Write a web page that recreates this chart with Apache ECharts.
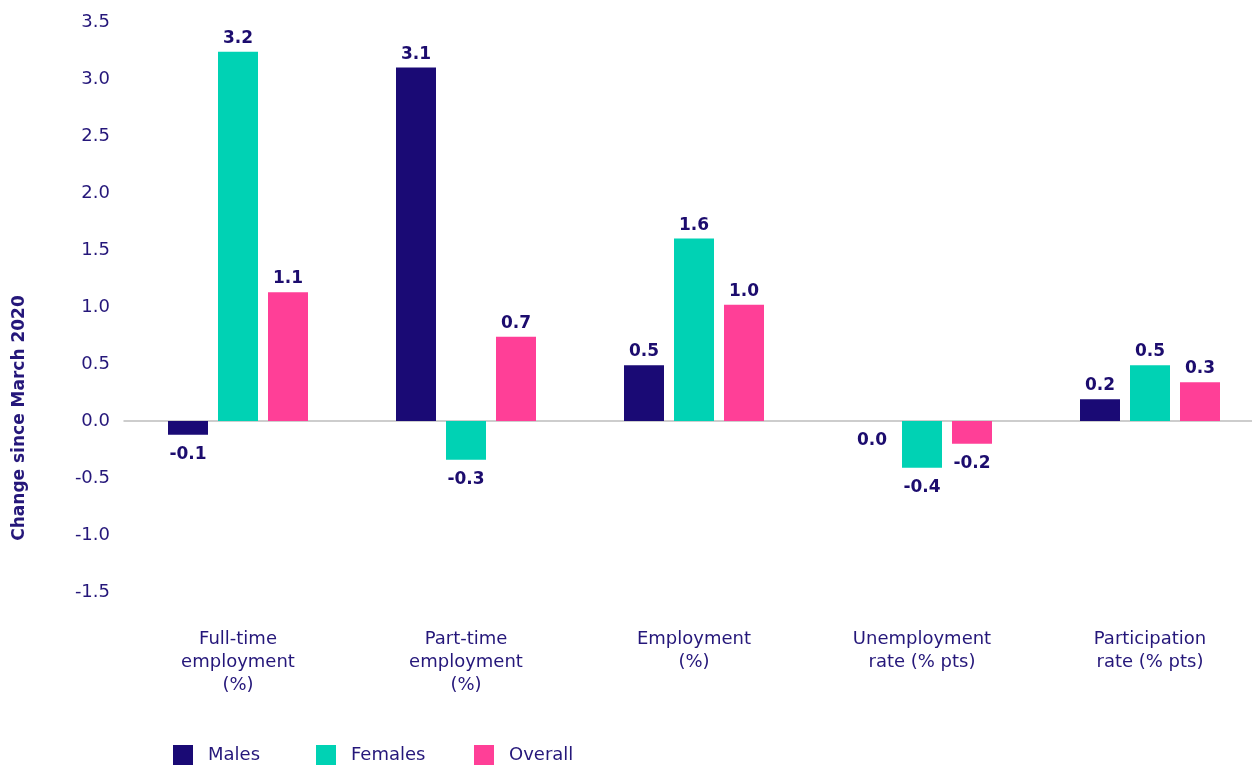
<!DOCTYPE html>
<html>
<head>
<meta charset="utf-8">
<script src="https://cdn.jsdelivr.net/npm/echarts@6/dist/echarts.min.js"></script>
<style>html,body{margin:0;padding:0;background:#fff}#c{width:1252px;height:767px}</style>
</head>
<body>
<div id="c"></div>
<script>
var categories = ['Full-time\nemployment\n(%)', 'Part-time\nemployment\n(%)', 'Employment\n(%)', 'Unemployment\nrate (% pts)', 'Participation\nrate (% pts)'];
var seriesNames = ['Males', 'Females', 'Overall'];
var males = [-0.12, 3.1, 0.49, 0.0, 0.19];
var females = [3.24, -0.34, 1.6, -0.41, 0.49];
var overall = [1.13, 0.74, 1.02, -0.2, 0.34];
var yTicks = [-1.5, -1.0, -0.5, 0.0, 0.5, 1.0, 1.5, 2.0, 2.5, 3.0, 3.5];
var yTitle = 'Change since March 2020';

var FONT = 'DejaVu Sans';
var TXT = '#25177a';
var LBL = '#1c0c6e';

function mk(arr) {
  return arr.map(function (v) {
    return { value: v, label: { position: v > 0 ? 'top' : 'bottom', distance: v > 0 ? 5 : 11 } };
  });
}
function series(name, arr, color) {
  return {
    name: name, type: 'bar', data: mk(arr), barWidth: 40, barGap: '25%',
    itemStyle: { color: color },
    label: { show: true, color: LBL, fontFamily: FONT, fontWeight: 'bold', fontSize: 17,
      formatter: function (p) { return p.value.toFixed(1); } }
  };
}
function leg(name, left) {
  return {
    left: left, bottom: 2, padding: 0, itemWidth: 20, itemHeight: 20, icon: 'rect',
    textStyle: { color: TXT, fontFamily: FONT, fontSize: 18, padding: [0, 0, 0, 10] },
    data: [name], selectedMode: false
  };
}
var chart = echarts.init(document.getElementById('c'));
chart.setOption({
  animation: false,
  textStyle: { fontFamily: FONT },
  grid: { left: 124, width: 1140, top: 22, bottom: 175, containLabel: false, outerBoundsMode: 'none' },
  legend: [leg(seriesNames[0], 173), leg(seriesNames[1], 316), leg(seriesNames[2], 474)],
  graphic: [{
    type: 'text', x: 20, y: 418, rotation: Math.PI / 2,
    style: { text: yTitle, fill: TXT, font: 'bold 17px "DejaVu Sans"', textAlign: 'center', textVerticalAlign: 'middle' }
  }],
  xAxis: {
    type: 'category', data: categories,
    axisLine: { show: true, onZero: true, lineStyle: { color: '#bdbdbd', width: 1.5 } },
    axisTick: { show: false },
    axisLabel: { color: TXT, fontFamily: FONT, fontSize: 18, lineHeight: 23, margin: 36,
      interval: 0 }
  },
  yAxis: {
    type: 'value', min: yTicks[0], max: yTicks[yTicks.length - 1], interval: 0.5,
    axisLine: { show: false }, axisTick: { show: false }, splitLine: { show: false },
    axisLabel: { color: TXT, fontFamily: FONT, fontSize: 18, margin: 14,
      formatter: function (v) { return v.toFixed(1); } }
  },
  series: [
    series(seriesNames[0], males, '#1a0a75'),
    series(seriesNames[1], females, '#00d2b4'),
    series(seriesNames[2], overall, '#ff3f97')
  ]
});
</script>
</body>
</html>
